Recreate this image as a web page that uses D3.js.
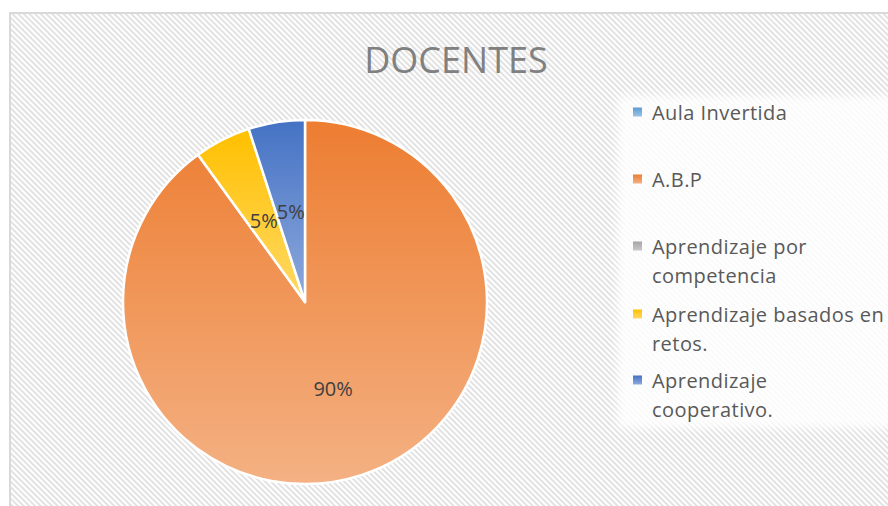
<!DOCTYPE html>
<html>
<head>
<meta charset="utf-8">
<script src="https://cdn.jsdelivr.net/npm/d3@7"></script>
<style>
  body { margin: 0; background: #fff; }
  svg { display: block; font-family: "Open Sans", sans-serif; }
</style>
</head>
<body>
<div id="chart"></div>
<script>
// datos de la gráfica
const categories = ["Aula Invertida", "A.B.P", "Aprendizaje por competencia", "Aprendizaje basados en retos.", "Aprendizaje cooperativo."];
const values = [0, 90, 0, 5, 5];
const legendLines = [["Aula Invertida"], ["A.B.P"], ["Aprendizaje por", "competencia"], ["Aprendizaje basados en", "retos."], ["Aprendizaje", "cooperativo."]];
const colorsTop = ["#5B9BD5", "#ED7D31", "#A5A5A5", "#FFC000", "#4472C4"];
const colorsBottom = ["#9DC3E6", "#F4B183", "#C9C9C9", "#FFD966", "#8FAADC"];

const width = 888, height = 506;
const cx = 305, cy = 302, radius = 182;

const svg = d3.select("#chart").append("svg")
    .attr("width", width)
    .attr("height", height);

const defs = svg.append("defs");

// fondo rayado
const pat = defs.append("pattern")
    .attr("id", "hatch")
    .attr("patternUnits", "userSpaceOnUse")
    .attr("width", 4).attr("height", 4)
    .attr("patternTransform", "rotate(45)");
pat.append("rect").attr("width", 4).attr("height", 4).attr("fill", "#ffffff");
pat.append("rect").attr("width", 4).attr("height", 2).attr("fill", "#e2e2e2");

// degradados de cada porción
categories.forEach((c, i) => {
    const g = defs.append("linearGradient")
        .attr("id", "grad" + i)
        .attr("x1", 0).attr("y1", 0).attr("x2", 0).attr("y2", 1);
    g.append("stop").attr("offset", "0%").attr("stop-color", colorsTop[i]);
    g.append("stop").attr("offset", "100%").attr("stop-color", colorsBottom[i]);
});

defs.append("filter").attr("id", "soft")
    .append("feGaussianBlur").attr("stdDeviation", 4);

svg.append("rect")
    .attr("x", 10).attr("y", 13)
    .attr("width", width).attr("height", height)
    .attr("fill", "url(#hatch)")
    .attr("stroke", "#d9d9d9")
    .attr("stroke-width", 2);

// título
svg.append("text")
    .attr("x", 456).attr("y", 73)
    .attr("text-anchor", "middle")
    .attr("font-size", 36)
    .attr("fill", "#808080")
    .text("DOCENTES");

// pastel
const pie = d3.pie().sort(null).value(d => d);
const arcs = pie(values);
const arc = d3.arc().innerRadius(0).outerRadius(radius);
const labelArc = d3.arc().innerRadius(radius * 0.5).outerRadius(radius * 0.5);

const g = svg.append("g").attr("transform", "translate(" + cx + "," + cy + ")");

g.selectAll("path")
    .data(arcs.filter(d => d.data > 0))
    .enter().append("path")
    .attr("d", arc)
    .attr("fill", d => "url(#grad" + d.index + ")")
    .attr("stroke", "#ffffff")
    .attr("stroke-width", 2.5)
    .attr("stroke-linejoin", "round");

g.selectAll(".lbl")
    .data(arcs.filter(d => d.data > 0))
    .enter().append("text")
    .attr("class", "lbl")
    .attr("transform", d => "translate(" + labelArc.centroid(d) + ")")
    .attr("text-anchor", "middle")
    .attr("dy", "0.36em")
    .attr("font-size", 20)
    .attr("fill", "#404040")
    .text(d => d.data + "%");

// leyenda
svg.append("rect")
    .attr("x", 618).attr("y", 96)
    .attr("width", 290).attr("height", 332)
    .attr("fill", "#ffffff")
    .attr("opacity", 0.85)
    .attr("filter", "url(#soft)");

const legendY = [120, 187, 254, 322, 388];
const leg = svg.append("g");
categories.forEach((c, i) => {
    leg.append("rect")
        .attr("x", 633).attr("y", legendY[i] - 12.5)
        .attr("width", 9).attr("height", 9)
        .attr("fill", "url(#grad" + i + ")");
    const t = leg.append("text")
        .attr("x", 652).attr("y", legendY[i])
        .attr("font-size", 20)
        .attr("letter-spacing", 0.45)
        .attr("fill", "#595959");
    legendLines[i].forEach((line, j) => {
        t.append("tspan")
            .attr("x", 652)
            .attr("y", legendY[i] + j * 28.5)
            .text(line);
    });
});
</script>
</body>
</html>
